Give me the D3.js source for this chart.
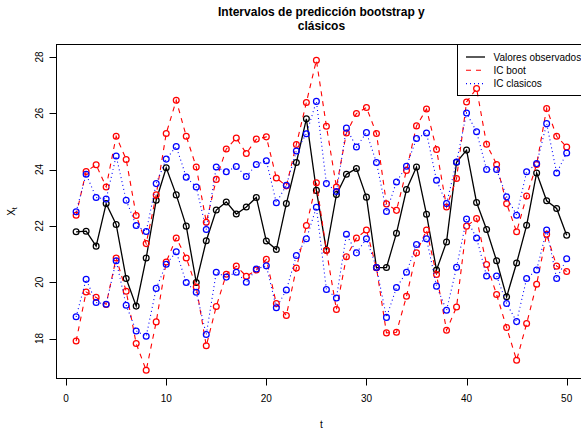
<!DOCTYPE html>
<html>
<head>
<meta charset="utf-8">
<script src="https://cdn.jsdelivr.net/npm/d3@7"></script>
<style>
  html, body { margin: 0; padding: 0; background: #fff; }
  svg { display: block; font-family: "Liberation Sans", Arial, Helvetica, sans-serif; }
</style>
</head>
<body>
<svg id="chart"></svg>
<script>
// time index
const tValues = [1,2,3,4,5,6,7,8,9,10,11,12,13,14,15,16,17,18,19,20,21,22,23,24,25,
  26,27,28,29,30,31,32,33,34,35,36,37,38,39,40,41,42,43,44,45,46,47,48,49,50];

// observed series
const observed = [21.79,21.81,21.28,22.79,22.05,20.13,19.15,20.86,22.91,24.06,23.10,21.99,
  19.99,21.47,22.56,22.85,22.42,22.67,23.01,21.46,21.16,22.79,24.25,25.80,
  23.26,21.13,23.11,23.83,24.04,23.02,20.52,20.52,21.74,23.29,24.09,22.41,
  20.43,21.43,24.26,24.69,22.83,21.87,20.76,19.48,20.68,22.02,23.88,22.89,22.62,21.67];

// bootstrap prediction interval
const bootUpper = [22.38,23.93,24.17,23.38,25.18,24.36,22.37,21.37,23.10,25.28,26.46,25.18,
  24.09,22.13,23.65,24.73,25.12,24.57,25.08,25.16,23.70,23.42,24.89,26.38,
  27.88,25.54,23.38,25.30,25.99,26.20,25.28,22.78,22.55,23.97,25.55,26.15,
  24.71,22.67,23.68,26.40,26.88,24.90,24.18,22.79,21.79,23.06,24.18,26.17,25.18,24.80];
const bootLower = [17.91,19.65,19.46,19.21,20.86,19.68,17.82,16.87,18.59,20.72,21.57,20.86,
  19.83,17.74,19.14,20.28,20.57,20.21,20.43,20.81,19.24,18.82,20.50,22.01,
  23.53,21.13,19.03,20.90,21.57,21.85,20.51,18.20,18.22,19.50,21.04,21.85,
  20.27,18.29,19.12,21.99,22.26,20.63,19.56,18.39,17.23,18.53,19.93,21.70,20.57,20.38];

// classic prediction interval
const clasUpper = [22.50,23.83,23.01,22.95,24.48,22.91,22.01,21.80,23.50,24.37,24.82,23.73,
  23.38,21.87,24.09,23.92,24.11,23.75,24.18,24.31,22.82,23.44,24.66,25.27,
  26.42,23.50,23.22,25.47,24.80,25.31,24.25,22.51,23.56,24.12,25.10,25.30,
  23.62,22.79,24.27,26.01,25.34,24.00,24.00,23.03,22.38,23.92,24.21,25.63,23.88,24.59];
const clasLower = [18.77,20.10,19.28,19.22,20.76,19.18,18.27,18.08,19.78,20.64,21.08,19.99,
  19.64,18.14,20.35,20.18,20.35,20.00,20.47,20.58,19.09,19.72,20.95,21.54,
  22.66,19.74,19.44,21.70,21.04,21.54,20.52,18.75,19.81,20.35,21.34,21.54,
  19.86,19.00,20.53,22.24,21.57,20.22,20.22,19.24,18.60,20.13,20.43,21.85,20.13,20.83];

const xTicks = [0, 10, 20, 30, 40, 50];
const yTicks = [18, 20, 22, 24, 26, 28];
const legendLabels = ["Valores observados", "IC boot", "IC clasicos"];

const width = 581, height = 430;
const svg = d3.select("#chart").attr("width", width).attr("height", height);

// plot region (right edge runs past the picture, as in the original)
const plotLeft = 56.5, plotRight = 586.3, plotTop = 44.5, plotBottom = 378.5;

const x = d3.scaleLinear().domain([-0.96, 51.96]).range([plotLeft, plotRight]);
const y = d3.scaleLinear().domain([16.58, 28.44]).range([plotBottom, plotTop]);

const series = [
  { values: observed,  color: "#000000", dash: null,  width: 1.3 },
  { values: bootUpper, color: "#ff0000", dash: "5,5", width: 1.1 },
  { values: bootLower, color: "#ff0000", dash: "5,5", width: 1.1 },
  { values: clasUpper, color: "#0000ff", dash: "1,3", width: 1.1 },
  { values: clasLower, color: "#0000ff", dash: "1,3", width: 1.1 }
];

const line = d3.line().x((d, i) => x(tValues[i])).y(d => y(d));

series.forEach(s => {
  svg.append("path")
    .datum(s.values)
    .attr("d", line)
    .attr("fill", "none")
    .attr("stroke", s.color)
    .attr("stroke-width", s.width)
    .attr("stroke-dasharray", s.dash);

  svg.append("g").selectAll("circle")
    .data(s.values)
    .enter()
    .append("circle")
    .attr("cx", (d, i) => x(tValues[i]))
    .attr("cy", d => y(d))
    .attr("r", 2.9)
    .attr("fill", "none")
    .attr("stroke", s.color)
    .attr("stroke-width", 1.25);
});

// plot box
svg.append("rect")
  .attr("x", plotLeft).attr("y", plotTop)
  .attr("width", plotRight - plotLeft).attr("height", plotBottom - plotTop)
  .attr("fill", "none").attr("stroke", "#000").attr("stroke-width", 1);

// x axis
const xAxis = svg.append("g");
xAxis.append("line")
  .attr("x1", x(xTicks[0])).attr("x2", x(xTicks[xTicks.length - 1]))
  .attr("y1", plotBottom).attr("y2", plotBottom)
  .attr("stroke", "#000");
xAxis.selectAll(".tick")
  .data(xTicks)
  .enter()
  .append("line")
  .attr("x1", d => Math.round(x(d)) + 0.5).attr("x2", d => Math.round(x(d)) + 0.5)
  .attr("y1", plotBottom).attr("y2", plotBottom + 7)
  .attr("stroke", "#000");
xAxis.selectAll("text")
  .data(xTicks)
  .enter()
  .append("text")
  .attr("x", d => x(d))
  .attr("y", 402)
  .attr("text-anchor", "middle")
  .attr("font-size", "10px")
  .attr("fill", "#000")
  .text(d => d);

// y axis
const yAxis = svg.append("g");
yAxis.append("line")
  .attr("x1", plotLeft).attr("x2", plotLeft)
  .attr("y1", y(yTicks[0])).attr("y2", y(yTicks[yTicks.length - 1]))
  .attr("stroke", "#000");
yAxis.selectAll(".tick")
  .data(yTicks)
  .enter()
  .append("line")
  .attr("x1", plotLeft - 7).attr("x2", plotLeft)
  .attr("y1", d => Math.round(y(d)) + 0.5).attr("y2", d => Math.round(y(d)) + 0.5)
  .attr("stroke", "#000");
yAxis.selectAll("text")
  .data(yTicks)
  .enter()
  .append("text")
  .attr("transform", d => `translate(43, ${y(d)}) rotate(-90)`)
  .attr("text-anchor", "middle")
  .attr("font-size", "10px")
  .attr("fill", "#000")
  .text(d => d);

// axis titles
svg.append("text")
  .attr("x", (plotLeft + plotRight) / 2)
  .attr("y", 428)
  .attr("text-anchor", "middle")
  .attr("font-size", "10px")
  .text("t");

const yLab = svg.append("text")
  .attr("transform", `translate(15, ${(plotTop + plotBottom) / 2}) rotate(-90)`)
  .attr("text-anchor", "middle")
  .attr("font-size", "10px");
yLab.append("tspan").text("X");
yLab.append("tspan").attr("font-size", "7px").attr("dy", 2).text("t");

// title
const title = svg.append("text")
  .attr("text-anchor", "middle")
  .attr("font-size", "12px")
  .attr("font-weight", "bold");
title.append("tspan").attr("x", (plotLeft + plotRight) / 2).attr("y", 15.5).text("Intervalos de predicción bootstrap y");
title.append("tspan").attr("x", (plotLeft + plotRight) / 2).attr("y", 30).text("clásicos");

// legend
const legend = svg.append("g");
legend.append("rect")
  .attr("x", 457.5).attr("y", plotTop)
  .attr("width", 140).attr("height", 51)
  .attr("fill", "none").attr("stroke", "#000");
const legendRows = legend.selectAll(".row")
  .data(legendLabels)
  .enter()
  .append("g")
  .attr("transform", (d, i) => `translate(0, ${57 + i * 13.3})`);
legendRows.append("line")
  .attr("x1", 466).attr("x2", 485)
  .attr("y1", 0).attr("y2", 0)
  .attr("stroke", (d, i) => series[[0, 1, 3][i]].color)
  .attr("stroke-dasharray", (d, i) => series[[0, 1, 3][i]].dash)
  .attr("stroke-width", (d, i) => series[[0, 1, 3][i]].width);
legendRows.append("text")
  .attr("x", 493.5)
  .attr("y", 3.6)
  .attr("font-size", "10px")
  .text(d => d);
</script>
</body>
</html>
